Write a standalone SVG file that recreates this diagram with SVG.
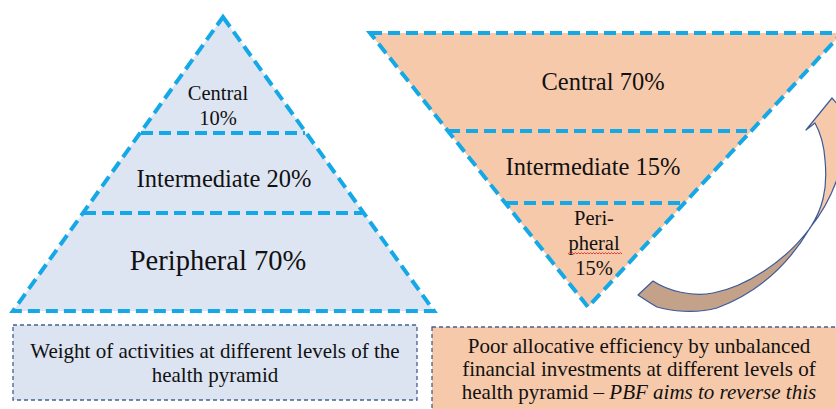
<svg xmlns="http://www.w3.org/2000/svg" width="836" height="409" viewBox="0 0 836 409">
  <style>
    .lvl { stroke: #14a9e6; stroke-width: 4; stroke-dasharray: 12 6; stroke-linejoin: miter; }
    .div { fill: none; stroke: #14a9e6; stroke-width: 4; stroke-dasharray: 12 6; }
    .lbl { font-family: "Liberation Serif", "Times New Roman", serif; fill: #111; text-anchor: middle; }
    .box { stroke: #44618f; stroke-width: 1.3; stroke-dasharray: 4 3; }
    .arr { stroke: #3c5a9a; stroke-width: 1.2; stroke-linejoin: round; }
  </style>
  <rect width="836" height="409" fill="#ffffff"/>

  <!-- Activity pyramid (upright) -->
  <g id="activity-pyramid">
    <polygon class="lvl" points="223,17 434,311 13,311" fill="#dde5f3"/>
    <line class="div" x1="141" y1="133" x2="305" y2="133"/>
    <line class="div" x1="84" y1="213" x2="362" y2="213"/>
    <text class="lbl" x="218" y="100" font-size="20.5">Central</text>
    <text class="lbl" x="218" y="125" font-size="20.5">10%</text>
    <text class="lbl" x="224" y="187" font-size="24.5">Intermediate 20%</text>
    <text class="lbl" x="218" y="270" font-size="28.5">Peripheral 70%</text>
  </g>

  <!-- Financing pyramid (inverted) -->
  <g id="financing-pyramid">
    <polygon class="lvl" points="370,33 842,33 588,307" fill="#f6c9aa"/>
    <line class="div" x1="448" y1="131" x2="747" y2="131"/>
    <line class="div" x1="506" y1="203" x2="680" y2="203"/>
    <text class="lbl" x="603" y="90" font-size="24.5">Central 70%</text>
    <text class="lbl" x="593" y="175" font-size="24.5">Intermediate 15%</text>
    <text class="lbl" x="594" y="225" font-size="20.5">Peri-</text>
    <text class="lbl" x="594" y="250" font-size="20.5">pheral</text>
    <text class="lbl" x="594" y="275" font-size="20.5">15%</text>
    <path d="M568,254 l1.5,-1.4 l1.5,1.4 l1.5,-1.4 l1.5,1.4 l1.5,-1.4 l1.5,1.4 l1.5,-1.4 l1.5,1.4 l1.5,-1.4 l1.5,1.4 l1.5,-1.4 l1.5,1.4 l1.5,-1.4 l1.5,1.4 l1.5,-1.4 l1.5,1.4 l1.5,-1.4 l1.5,1.4 l1.5,-1.4 l1.5,1.4 l1.5,-1.4 l1.5,1.4 l1.5,-1.4 l1.5,1.4 l1.5,-1.4 l1.5,1.4 l1.5,-1.4 l1.5,1.4 l1.5,-1.4 l1.5,1.4 l1.5,-1.4 l1.5,1.4 l1.5,-1.4 l1.5,1.4 l1.5,-1.4 l1.5,1.4" fill="none" stroke="#e0302a" stroke-width="0.9"/>
  </g>

  <!-- Caption boxes -->
  <g id="activity-caption">
    <rect class="box" x="13" y="325" width="404" height="75" fill="#dce4f2"/>
    <text class="lbl" x="215" y="358" font-size="21">Weight of activities at different levels of the</text>
    <text class="lbl" x="215" y="382" font-size="21">health pyramid</text>
  </g>
  <g id="financing-caption">
    <rect class="box" x="432" y="327" width="420" height="100" fill="#f6c9aa"/>
    <text class="lbl" x="639" y="353" font-size="21">Poor allocative efficiency by unbalanced</text>
    <text class="lbl" x="639" y="376" font-size="21">financial investments at different levels of</text>
    <text class="lbl" x="639" y="399" font-size="21">health pyramid – <tspan font-style="italic">PBF aims to reverse this</tspan></text>
  </g>

  <!-- Curved reversal arrow -->
  <g id="connectors">
    <path class="arr" fill="#c4a28a" d="M653,281 C668,291 692,297 713,293 C745,287 785,262 810,228 C790,262 760,292 717,308 C695,314 670,311 657,307 C650,303 644,299 638,295 Z"/>
    <path class="arr" fill="#f6c9aa" d="M810,228 C822,210 828,190 825,160 C824,145 820,132 815,123 L806,130 L832,98 L858,128 L846,124 C846,150 840,190 810,228 Z"/>
  </g>
</svg>
